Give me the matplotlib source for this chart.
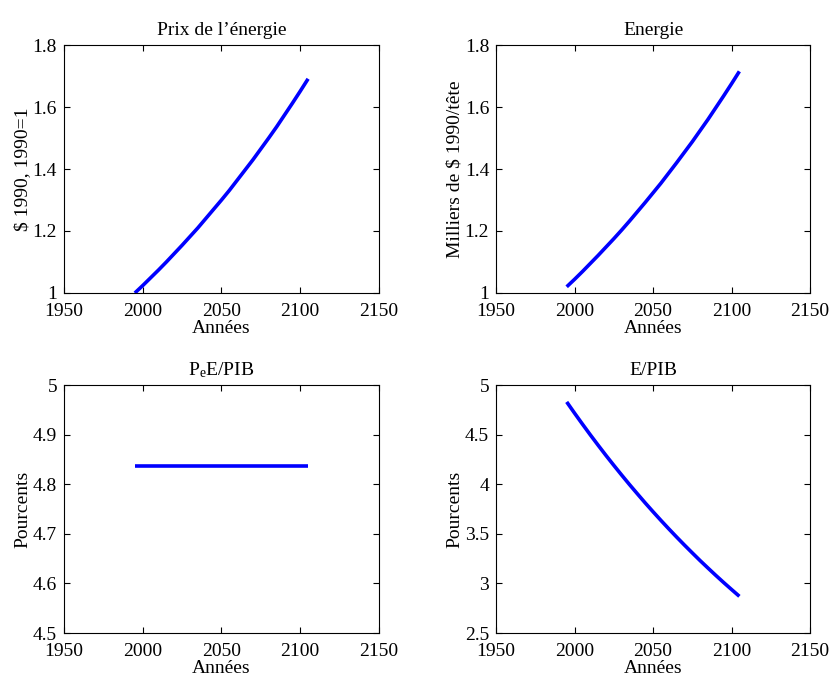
import matplotlib
matplotlib.use('Agg')
import matplotlib.pyplot as plt

plt.rcParams['font.family'] = ['Liberation Serif', 'DejaVu Serif']
plt.rcParams['mathtext.fontset'] = 'custom'
plt.rcParams['mathtext.rm'] = 'Liberation Serif'
plt.rcParams['mathtext.it'] = 'Liberation Serif:italic'

annees = [1995, 2000, 2005, 2010, 2015, 2020, 2025, 2030, 2035, 2040, 2045, 2050,
	2055, 2060, 2065, 2070, 2075, 2080, 2085, 2090, 2095, 2100, 2105]
prix_energie = [1.000, 1.024, 1.049, 1.074, 1.100, 1.127, 1.154, 1.182, 1.210, 1.240, 1.270, 1.300,
	1.331, 1.364, 1.397, 1.430, 1.465, 1.500, 1.536, 1.574, 1.612, 1.651, 1.691]
energie = [1.020, 1.044, 1.069, 1.095, 1.121, 1.148, 1.175, 1.203, 1.232, 1.262, 1.292, 1.323,
	1.354, 1.387, 1.420, 1.454, 1.488, 1.524, 1.560, 1.598, 1.636, 1.675, 1.715]
pe_e_pib = [4.836] * 23
e_pib = [4.830, 4.717, 4.607, 4.499, 4.394, 4.291, 4.191, 4.093, 3.997, 3.904, 3.812, 3.723,
	3.636, 3.551, 3.468, 3.387, 3.308, 3.230, 3.155, 3.081, 3.009, 2.939, 2.870]

x_ticks = [1950, 2000, 2050, 2100, 2150]

panels = [
	(prix_energie, 'Prix de l\u2019\u00e9nergie', '$ 1990, 1990=1', (1, 1.8), [1, 1.2, 1.4, 1.6, 1.8], ['1', '1.2', '1.4', '1.6', '1.8']),
	(energie, 'Energie', 'Milliers de $ 1990/t\u00eate', (1, 1.8), [1, 1.2, 1.4, 1.6, 1.8], ['1', '1.2', '1.4', '1.6', '1.8']),
	(pe_e_pib, r'P$_{\mathrm{e}}$E/PIB', 'Pourcents', (4.5, 5), [4.5, 4.6, 4.7, 4.8, 4.9, 5], ['4.5', '4.6', '4.7', '4.8', '4.9', '5']),
	(e_pib, 'E/PIB', 'Pourcents', (2.5, 5), [2.5, 3, 3.5, 4, 4.5, 5], ['2.5', '3', '3.5', '4', '4.5', '5']),
]

positions = [
	[0.0769, 0.5685, 0.3786, 0.3652],
	[0.5962, 0.5685, 0.3774, 0.3652],
	[0.0769, 0.0677, 0.3786, 0.3652],
	[0.5962, 0.0677, 0.3774, 0.3652],
]

fig = plt.figure(figsize=(8.32, 6.79), dpi=100)
for (vals, title, ylabel, ylim, yt, ytl), pos in zip(panels, positions):
	ax = fig.add_axes(pos)
	ax.plot(annees, vals, color=(0, 0, 1), linewidth=2.6, solid_capstyle='butt')
	ax.set_xlim(1950, 2150)
	ax.set_ylim(*ylim)
	ax.set_xticks(x_ticks)
	ax.set_yticks(yt)
	ax.set_yticklabels(ytl)
	ax.tick_params(direction='in', top=True, right=True, labelsize=14, length=4)
	ax.tick_params(axis='x', pad=7)
	ax.tick_params(axis='y', pad=5)
	ax.set_title(title, fontsize=14, pad=7)
	ax.set_xlabel('Ann\u00e9es', fontsize=14, labelpad=0)
	ax.set_ylabel(ylabel, fontsize=14, labelpad=1)

fig.savefig('out.png', dpi=100)
